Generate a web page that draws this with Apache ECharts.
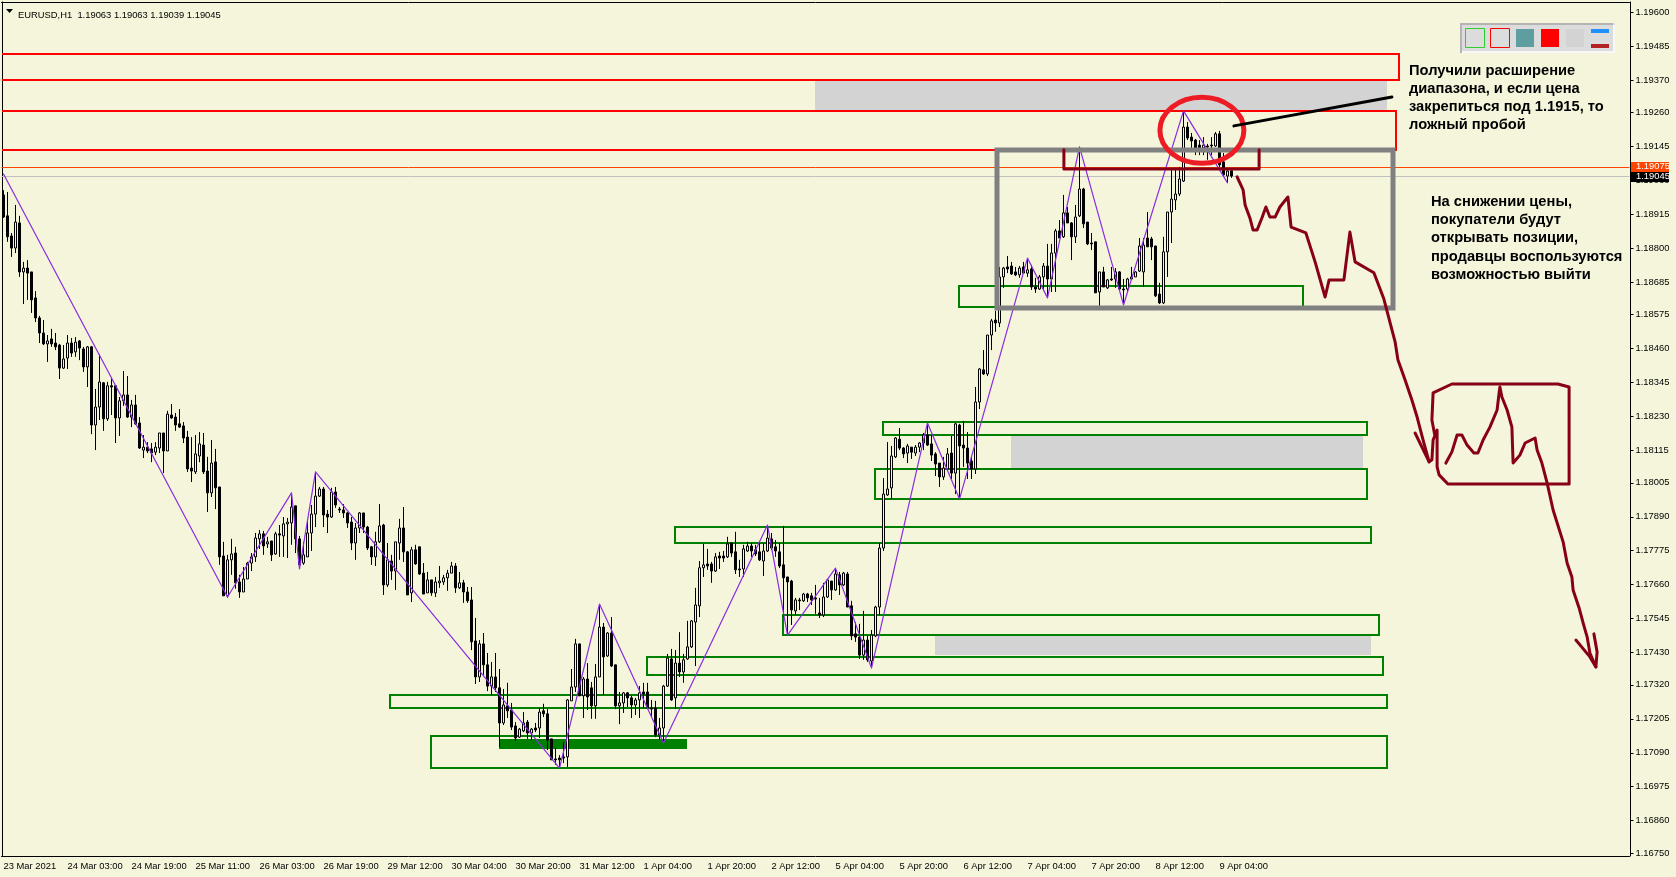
<!DOCTYPE html>
<html>
<head>
<meta charset="utf-8">
<style>html,body{margin:0;padding:0;background:#F5F5DC}#c{width:1676px;height:877px}</style>
<script src="https://cdn.jsdelivr.net/npm/echarts@6/dist/echarts.min.js"></script>
</head>
<body>
<div id="c"></div>
<script>
const tickLabels=["23 Mar 2021","24 Mar 03:00","24 Mar 19:00","25 Mar 11:00","26 Mar 03:00","26 Mar 19:00","29 Mar 12:00","30 Mar 04:00","30 Mar 20:00","31 Mar 12:00","1 Apr 04:00","1 Apr 20:00","2 Apr 12:00","5 Apr 04:00","5 Apr 20:00","6 Apr 12:00","7 Apr 04:00","7 Apr 20:00","8 Apr 12:00","9 Apr 04:00"];
const priceTicks=[1.196,1.19485,1.1937,1.1926,1.19145,1.1903,1.18915,1.188,1.18685,1.18575,1.1846,1.18345,1.1823,1.18115,1.18005,1.1789,1.17775,1.1766,1.17545,1.1743,1.1732,1.17205,1.1709,1.16975,1.1686,1.1675];
// open, close, low, high in 1e-5 price points
const ohlcPoints=[
[118981,118906,118903,118997],[118910,118839,118822,118991],[118842,118801,118771,118852],[118801,118889,118784,118947],[118886,118720,118703,118910],[118720,118733,118611,118754],[118733,118716,118625,118760],[118720,118625,118581,118720],
[118632,118564,118550,118655],[118564,118513,118479,118571],[118513,118476,118472,118557],[118476,118486,118415,118506],[118493,118476,118466,118527],[118479,118466,118455,118513],[118472,118394,118357,118476],[118394,118425,118391,118472],
[118428,118479,118391,118506],[118479,118445,118432,118496],[118449,118482,118432,118499],[118486,118462,118421,118489],[118459,118398,118381,118466],[118398,118466,118330,118469],[118466,118201,118170,118469],[118201,118262,118116,118323],
[118262,118347,118218,118442],[118344,118222,118181,118347],[118222,118334,118215,118347],[118334,118330,118235,118361],[118334,118225,118140,118334],[118225,118283,118164,118296],[118283,118303,118266,118384],[118303,118228,118225,118367],
[118228,118269,118194,118286],[118269,118205,118201,118303],[118208,118123,118120,118228],[118116,118126,118089,118167],[118126,118113,118106,118143],[118120,118106,118075,118140],[118109,118126,118099,118143],[118123,118174,118106,118174],
[118174,118113,118038,118174],[118113,118238,118113,118249],[118235,118225,118222,118272],[118228,118201,118181,118242],[118205,118194,118191,118255],[118198,118157,118140,118211],[118160,118052,118042,118181],[118055,118045,118008,118160],
[118042,118103,118035,118167],[118096,118137,118075,118177],[118133,118042,118035,118174],[118045,117971,117906,118093],[117971,118072,117957,118150],[118076,117988,117916,118120],[117991,117754,117727,117991],[117757,117622,117622,117805],
[117622,117744,117615,117761],[117744,117764,117693,117815],[117767,117666,117646,117788],[117669,117635,117615,117693],[117635,117679,117635,117720],[117679,117733,117679,117737],[117733,117754,117706,117767],[117754,117818,117737,117835],
[117815,117832,117781,117845],[117832,117791,117761,117842],[117798,117805,117784,117822],[117808,117761,117740,117808],[117764,117832,117761,117839],[117832,117828,117754,117862],[117825,117866,117754,117889],[117866,117872,117750,117886],
[117869,117923,117795,117971],[117927,117815,117767,117927],[117815,117727,117713,117825],[117733,117761,117727,117805],[117754,117835,117754,117879],[117835,117899,117774,117930],[117899,117960,117855,118042],[117960,117984,117957,117991],
[117984,117896,117855,117991],[117899,117889,117835,117913],[117889,117974,117886,117988],[117974,117930,117920,117991],[117916,117913,117903,117923],[117913,117903,117886,117933],[117903,117869,117852,117906],[117872,117801,117777,117889],
[117801,117852,117744,117869],[117852,117903,117835,117906],[117903,117855,117835,117903],[117855,117784,117777,117859],[117788,117754,117727,117791],[117754,117805,117723,117839],[117805,117859,117801,117933],[117862,117659,117625,117866],
[117659,117744,117652,117801],[117740,117706,117676,117761],[117706,117805,117642,117805],[117801,117852,117744,117883],[117852,117771,117737,117923],[117771,117625,117625,117774],[117632,117778,117601,117788],[117778,117730,117727,117795],
[117788,117696,117693,117788],[117699,117628,117628,117733],[117632,117676,117632,117703],[117676,117632,117622,117676],[117632,117669,117618,117686],[117666,117672,117649,117723],[117669,117683,117659,117693],[117683,117699,117639,117710],
[117699,117723,117699,117737],[117723,117649,117632,117733],[117649,117666,117645,117703],[117666,117635,117598,117676],[117635,117605,117598,117652],[117608,117466,117438,117652],[117469,117347,117323,117547],[117347,117459,117330,117472],
[117459,117388,117354,117496],[117388,117316,117299,117428],[117316,117347,117286,117398],[117347,117310,117296,117428],[117310,117191,117110,117374],[117191,117252,117184,117306],[117249,117232,117208,117327],[117235,117177,117167,117259],
[117181,117140,117130,117194],[117143,117170,117140,117174],[117164,117191,117160,117228],[117194,117157,117137,117201],[117157,117170,117133,117174],[117174,117167,117160,117191],[117174,117228,117140,117242],[117232,117222,117211,117256],
[117222,117133,117099,117238],[117137,117066,117066,117137],[117069,117066,117049,117106],[117072,117066,117038,117082],[117076,117072,117055,117126],[117076,117269,117042,117272],[117266,117313,117266,117374],[117313,117459,117296,117476],
[117459,117283,117283,117459],[117283,117340,117208,117347],[117340,117279,117235,117394],[117310,117249,117205,117330],[117249,117347,117205,117391],[117347,117516,117347,117594],[117516,117415,117286,117530],[117418,117496,117415,117499],
[117496,117384,117381,117550],[117388,117249,117238,117388],[117249,117259,117187,117296],[117259,117293,117225,117296],[117293,117276,117245,117296],[117276,117252,117208,117283],[117252,117269,117218,117276],[117269,117293,117208,117316],
[117296,117289,117242,117327],[117296,117242,117238,117327],[117242,117238,117211,117269],[117242,117150,117143,117266],[117150,117174,117133,117208],[117174,117316,117123,117320],[117316,117411,117313,117425],[117408,117269,117266,117442],
[117276,117394,117238,117438],[117394,117364,117347,117499],[117364,117405,117327,117425],[117408,117449,117405,117537],[117449,117537,117445,117540],[117533,117591,117384,117649],[117588,117717,117550,117740],[117717,117727,117686,117798],
[117730,117723,117710,117781],[117730,117706,117666,117737],[117706,117754,117703,117767],[117757,117750,117713,117771],[117757,117750,117737,117774],[117754,117798,117750,117822],[117801,117767,117754,117801],[117771,117710,117696,117839],
[117713,117710,117686,117744],[117713,117781,117686,117795],[117774,117791,117771,117805],[117791,117774,117754,117801],[117778,117764,117757,117795],[117771,117744,117740,117801],[117740,117774,117689,117801],[117774,117818,117771,117862],
[117815,117784,117777,117835],[117788,117774,117754,117811],[117771,117723,117716,117801],[117727,117683,117550,117859],[117686,117669,117489,117686],[117672,117574,117523,117676],[117571,117608,117557,117615],[117608,117605,117574,117615],
[117605,117628,117601,117632],[117628,117615,117601,117632],[117622,117608,117591,117632],[117615,117611,117561,117659],[117564,117557,117547,117615],[117557,117618,117550,117666],[117618,117676,117615,117679],[117672,117642,117608,117672],
[117642,117696,117639,117716],[117693,117659,117625,117703],[117659,117699,117655,117703],[117696,117584,117584,117703],[117588,117486,117472,117605],[117493,117482,117466,117533],[117482,117421,117408,117527],[117421,117472,117405,117571],
[117472,117405,117398,117486],[117401,117489,117377,117506],[117486,117584,117482,117588],[117584,117784,117557,117801],[117784,117967,117774,118021],[117964,117984,117961,118143],[117988,118096,117950,118130],[118093,118157,118089,118160],
[118153,118123,118116,118191],[118123,118103,118089,118126],[118106,118130,118072,118137],[118126,118109,118086,118126],[118106,118126,118096,118133],[118126,118140,118109,118143],[118140,118167,118116,118174],[118167,118133,118130,118208],
[118137,118099,118079,118167],[118103,118069,118028,118109],[118072,118025,117991,118072],[118025,118055,118015,118093],[118052,118103,118048,118123],[118106,118038,118018,118164],[118038,118205,117967,118208],[118201,118130,117950,118205],
[118133,118123,118059,118215],[118123,118072,118018,118177],[118079,118052,118018,118093],[118052,118279,118035,118330],[118279,118391,118255,118394],[118388,118374,118371,118455],[118374,118506,118367,118506],[118506,118554,118455,118561],
[118557,118547,118517,118588],[118547,118703,118533,118737],[118703,118733,118666,118737],[118737,118730,118716,118774],[118740,118713,118710,118754],[118720,118710,118706,118737],[118710,118733,118700,118740],[118737,118716,118716,118754],
[118716,118727,118703,118767],[118730,118669,118659,118744],[118669,118662,118649,118700],[118662,118703,118659,118710],[118703,118740,118662,118750],[118740,118696,118632,118815],[118696,118784,118652,118815],[118784,118859,118652,118866],
[118859,118835,118835,118896],[118839,118920,118835,118981],[118920,118886,118886,118940],[118886,118839,118760,118889],[118839,118906,118818,118947],[118910,119001,118906,119144],[119001,118883,118869,119005],[118889,118815,118811,118889],
[118818,118815,118794,118852],[118822,118649,118649,118822],[118652,118720,118605,118720],[118720,118669,118669,118737],[118666,118693,118662,118696],[118696,118693,118689,118737],[118696,118720,118666,118733],[118720,118662,118659,118723],
[118662,118659,118608,118696],[118662,118696,118652,118700],[118696,118703,118693,118737],[118703,118720,118703,118723],[118723,118808,118720,118835],[118720,118811,118669,118835],[118835,118805,118805,118923],[118832,118805,118760,118839],
[118808,118639,118635,118808],[118645,118615,118611,118683],[118615,118788,118611,118839],[118788,118923,118703,118923],[118923,118967,118818,119072],[118964,118984,118930,119072],[118984,119035,118977,119076],[119028,119211,119025,119266],
[119211,119174,119167,119228],[119177,119164,119140,119191],[119167,119140,119116,119171],[119150,119140,119116,119167],[119140,119150,119116,119177],[119147,119144,119100,119154],[119150,119147,119116,119177],[119147,119188,119144,119194],
[119188,119083,119076,119198],[119093,119049,119042,119123],[119045,119062,119022,119072],[119063,119045,119039,119063]
];
const zigzag=[[0,119052],[56,117618],[72,117971],[74,117713],[78,118042],[139,117038],[149,117594],[165,117123],[191,117862],[196,117489],[208,117716],[217,117377],[231,118208],[239,117950],[256,118767],[261,118632],[269,119144],[280,118608],[295,119266],[306,119022]];
// [barStart, barEnd, priceTop, priceBottom]
const redZones=[[-0.5,348.9,119460,119371],[-0.5,348.1,119266,119134]];
const grayZones=[[202.9,345.9,119371,119269],[251.9,339.9,118164,118055],[232.9,341.9,117489,117421]];
const greenZones=[[238.9,324.9,118671,118602],[219.9,340.9,118211,118168],[217.9,340.9,118053,117950],[167.9,341.9,117855,117801],[194.9,343.9,117557,117489],[160.9,344.9,117415,117354],[96.6,345.9,117286,117242],[106.9,345.9,117147,117038]];
const solidZones=[[123.9,170.9,117137,117103]];
const frameZones=[[248.3,347.4,119132,118596]];
const bracket=[[265.1,119134],[265.1,119069],[313.9,119069],[313.9,119134]];
const blackStroke=[[307.6,119215],[347.1,119313]];
const ellipseMark=[[299.6,119200,10.5,112]];
const forecastPath=[[308.4,119042],[309.9,118998],[310.4,118947],[311.6,118903],[312.4,118862],[313.4,118862],[314.6,118903],[315.6,118940],[316.6,118906],[317.9,118906],[319.1,118940],[321.1,118974],[321.9,118872],[325.6,118852],[327.9,118754],[330.4,118635],[331.4,118693],[335.1,118693],[336.6,118855],[337.9,118754],[342.6,118717],[345.1,118628],[347.9,118483],[348.6,118422],[350.4,118354],[352.1,118286],[353.4,118228],[354.9,118150],[356.4,118076]];
const forecastBox=[[352.9,118174],[356.4,118076],[357.1,118083],[357.4,118150],[358.4,118184],[358.4,118059],[358.9,118032],[361.1,118001],[391.4,118001],[391.4,118330],[388.6,118340],[378.6,118340],[362.1,118340],[357.4,118310],[357.1,118218],[357.9,118161]];
const forecastTail=[[360.6,118072],[362.1,118110],[363.4,118167],[364.6,118167],[365.9,118133],[367.6,118106],[368.6,118106],[369.9,118150],[371.6,118194],[373.4,118252],[373.9,118310],[374.1,118330],[374.6,118296],[375.9,118252],[377.1,118194],[377.4,118072],[379.1,118099],[380.4,118140],[382.9,118157],[383.4,118116],[384.6,118072],[385.9,118005],[387.4,117913],[389.9,117805],[390.9,117733],[392.1,117686],[392.4,117642],[393.9,117581],[394.9,117530],[395.9,117483],[396.6,117428],[398.1,117381]];
const tailArrow=[[393.1,117472],[396.6,117415],[398.1,117381],[398.4,117432],[397.6,117493]];
const priceLines=[[119075,'#FF4500','#FF4500','1.19075',0],[119045,'#C0C0C0','#000000','1.19045',1]];
const noteOne=["Получили расширение","диапазона, и если цена","закрепиться под 1.1915, то","ложный пробой"];
const noteTwo=["На снижении цены,","покупатели будут","открывать позиции,","продавцы воспользуются","возможностью выйти"];

const BAR_SLOTS=407, P=1e5;
const categories=Array.from({length:BAR_SLOTS},(_,i)=>(i%16===0&&tickLabels[i/16])||'');
const candles=ohlcPoints.map(r=>r.map(v=>v/P));
const scaled=a=>a.map(r=>[r[0],r[1]/P]);
const zoneRows=a=>a.map(r=>[r[0],r[1],r[2]/P,r[3]/P]);
const bg='#F5F5DC', font='"Liberation Sans",Arial,sans-serif', SMALL=9.4;
const isTick=i=>i%16===0&&i/16<tickLabels.length;

function boxSeries(rows,z,stroke,width,fill,openLeft){
  return {type:'custom',xAxisIndex:1,yAxisIndex:0,z,silent:true,clip:false,
    encode:{x:[0,1],y:[2,3]},data:zoneRows(rows),
    renderItem(p,api){
      const a=api.coord([api.value(0),api.value(2)]),b=api.coord([api.value(1),api.value(3)]);
      const x0=Math.round(a[0]),y0=Math.round(a[1]),x1=Math.round(b[0]),y1=Math.round(b[1]);
      if(openLeft) return {type:'polyline',shape:{points:[[x0,y0],[x1,y0],[x1,y1],[x0,y1]]},style:{fill:'none',stroke,lineWidth:width}};
      return {type:'rect',shape:{x:x0,y:y0,width:x1-x0,height:y1-y0},style:{fill:fill||'none',stroke:stroke||'none',lineWidth:width||0}};
    }};
}
function pathSeries(pts,z,color,width){
  return {type:'line',xAxisIndex:1,yAxisIndex:0,z,silent:true,symbol:'none',clip:false,animation:false,
    data:scaled(pts),lineStyle:{color,width,join:'round',cap:'round'}};
}
const noteText=(lines,x,y)=>lines.map((t,i)=>({type:'text',z:20,silent:true,left:x,top:y+i*18.2-9,
  style:{text:t,fill:'#000',font:'bold 14.7px '+font}}));

const chart=echarts.init(document.getElementById('c'),null,{renderer:'canvas'});
chart.setOption({
  animation:false,backgroundColor:bg,
  title:{text:'EURUSD,H1  1.19063 1.19063 1.19039 1.19045',left:13,top:4,textStyle:{fontFamily:font,fontSize:SMALL,fontWeight:'normal',color:'#000',lineHeight:12}},
  grid:{left:1.5,top:2,width:1628,height:854,containLabel:false,outerBoundsMode:'none'},
  xAxis:[
    {type:'category',data:categories,position:'bottom',axisLine:{lineStyle:{color:'#000',width:1}},
      axisTick:{alignWithLabel:true,interval:isTick,length:3,lineStyle:{color:'#000'}},
      axisLabel:{interval:isTick,align:'left',margin:6,color:'#000',fontFamily:font,fontSize:SMALL,hideOverlap:false},splitLine:{show:false}},
    {type:'value',min:-0.5,max:406.5,position:'top',axisLine:{show:true,onZero:false,lineStyle:{color:'#000',width:1}},axisTick:{show:false},axisLabel:{show:false},splitLine:{show:false}}
  ],
  yAxis:[
    {type:'value',min:1.1674,max:1.19635,position:'right',offset:1,axisLine:{show:true,onZero:false,lineStyle:{color:'#000',width:1}},
      axisTick:{show:true,length:3,customValues:priceTicks,lineStyle:{color:'#000'}},
      axisLabel:{customValues:priceTicks,margin:5,padding:[2,0,0,0],color:'#000',fontFamily:font,fontSize:SMALL,formatter:v=>v.toFixed(5)},splitLine:{show:false}},
    {type:'value',min:1.1674,max:1.19635,position:'left',offset:-1,axisLine:{show:true,onZero:false,lineStyle:{color:'#000',width:1}},axisTick:{show:false},axisLabel:{show:false},splitLine:{show:false}}
  ],
  series:[
    boxSeries(grayZones,1,null,0,'#D3D3D3'),
    boxSeries(greenZones,2,'#008000',2),
    boxSeries(solidZones,2,null,0,'#008000'),
    boxSeries(redZones,2,'#FF0000',2,null,true),
    {type:'custom',xAxisIndex:1,yAxisIndex:0,z:2,silent:true,clip:false,encode:{y:0},
      data:priceLines.map(r=>[r[0]/P]),
      renderItem(p,api){
        const y=Math.round(api.coord([0,api.value(0)])[1])+0.5,l=api.coord([-0.5,0])[0],r=api.coord([406.5,0])[0];
        return {type:'line',shape:{x1:l,y1:y,x2:r,y2:y},style:{stroke:priceLines[p.dataIndex][1],lineWidth:1}};
      }},
    {type:'candlestick',xAxisIndex:0,yAxisIndex:0,z:3,silent:true,barWidth:3,large:false,progressive:0,data:candles,
      itemStyle:{color:bg,color0:'#000',borderColor:'#000',borderColor0:'#000',borderWidth:1}},
    pathSeries(zigzag,4,'#8A2BE2',1.2),
    boxSeries(frameZones,5,'#808080',5),
    pathSeries(bracket,5,'#880015',3),
    pathSeries(blackStroke,6,'#000000',3),
    pathSeries(forecastPath,6,'#880015',3),
    pathSeries(forecastBox,6,'#880015',3),
    pathSeries(forecastTail,6,'#880015',3),
    pathSeries(tailArrow,6,'#880015',3),
    {type:'custom',xAxisIndex:1,yAxisIndex:0,z:6,silent:true,clip:false,encode:{x:0,y:1},
      data:ellipseMark.map(r=>[r[0],r[1]/P,r[2],r[3]/P]),
      renderItem(p,api){
        const c=api.coord([api.value(0),api.value(1)]),s=api.size([api.value(2),api.value(3)]);
        return {type:'ellipse',shape:{cx:c[0],cy:c[1],rx:s[0],ry:s[1]},style:{fill:'none',stroke:'#ED1C24',lineWidth:5}};
      }},
    {type:'custom',xAxisIndex:1,yAxisIndex:0,z:7,silent:true,clip:false,encode:{y:0},
      data:priceLines.map(r=>[r[0]/P]),
      renderItem(p,api){
        const row=priceLines[p.dataIndex],y=Math.round(api.coord([0,api.value(0)])[1])+row[4],r=api.coord([406.5,0])[0]+1.5;
        return {type:'group',children:[
          {type:'rect',shape:{x:r,y:y-5,width:38,height:10},style:{fill:row[2]}},
          {type:'text',x:r+5,y:y-5,style:{text:row[3],fill:'#fff',font:SMALL+'px '+font,textVerticalAlign:'top'}}
        ]};
      }}
  ],
  graphic:[
    {type:'polygon',z:20,silent:true,shape:{points:[[6,9],[13,9],[9.5,13]]},style:{fill:'#000'}},
    {type:'rect',z:20,silent:true,shape:{x:1460,y:23,width:155,height:30},style:{fill:'#DCDCDC'}},
    {type:'rect',z:20,silent:true,shape:{x:1460,y:23,width:153,height:2},style:{fill:'#B4B4B4'}},
    {type:'rect',z:20,silent:true,shape:{x:1460,y:23,width:2,height:30},style:{fill:'#B4B4B4'}},
    {type:'rect',z:20,silent:true,shape:{x:1613,y:25,width:2,height:28},style:{fill:'#F8F8F8'}},
    {type:'rect',z:20,silent:true,shape:{x:1462,y:51,width:153,height:2},style:{fill:'#F8F8F8'}},
    {type:'rect',z:20,silent:true,shape:{x:1465.5,y:28.5,width:19,height:19},style:{fill:'#DCDCDC',stroke:'#32CD32',lineWidth:1}},
    {type:'rect',z:20,silent:true,shape:{x:1490.5,y:28.5,width:19,height:19},style:{fill:'#DCDCDC',stroke:'#FF0000',lineWidth:1}},
    {type:'rect',z:20,silent:true,shape:{x:1516,y:29,width:18,height:18},style:{fill:'#5F9EA0'}},
    {type:'rect',z:20,silent:true,shape:{x:1541,y:29,width:18,height:18},style:{fill:'#FF0000'}},
    {type:'rect',z:20,silent:true,shape:{x:1566,y:29,width:18,height:18},style:{fill:'#D3D3D3'}},
    {type:'rect',z:20,silent:true,shape:{x:1591,y:29,width:18,height:4},style:{fill:'#1E90FF'}},
    {type:'rect',z:20,silent:true,shape:{x:1591,y:44,width:18,height:4},style:{fill:'#B22222'}},
    ...noteText(noteOne,1409,72),
    ...noteText(noteTwo,1431,203.5)
  ]
});
</script>
</body>
</html>
